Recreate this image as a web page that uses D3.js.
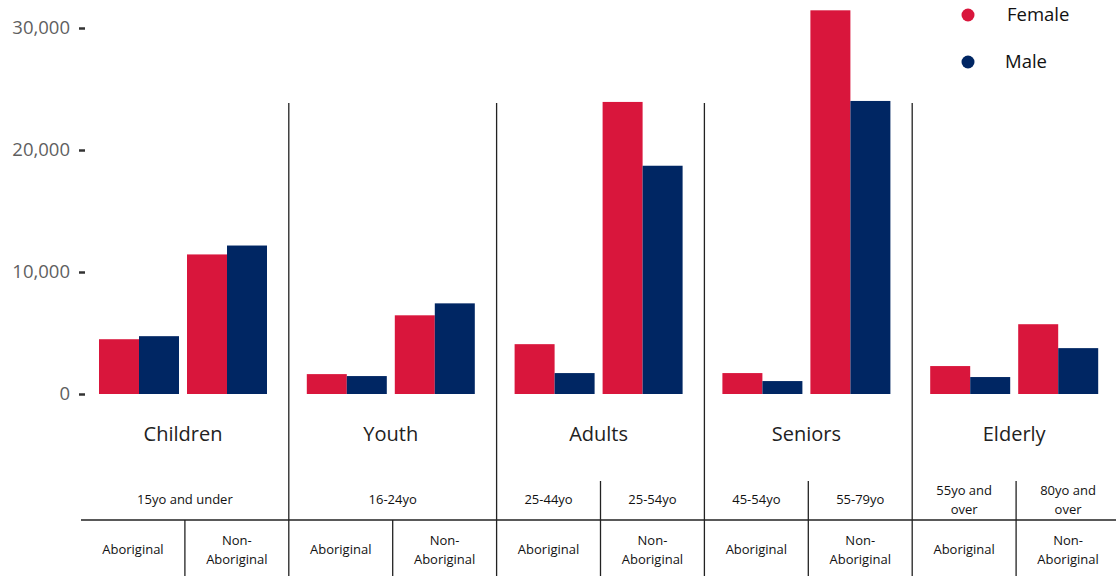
<!DOCTYPE html>
<html>
<head>
<meta charset="utf-8">
<script src="https://cdn.jsdelivr.net/npm/d3@7"></script>
<style>
  html, body { margin: 0; padding: 0; background: #fff; }
  svg { display: block; }
</style>
</head>
<body>
<svg id="chart" width="1116" height="576"></svg>
<script>
// Age groups and their sub-columns
const groups = ["Children", "Youth", "Adults", "Seniors", "Elderly"];
const populations = ["Aboriginal", "Non-Aboriginal"];
const seriesNames = ["Female", "Male"];

// Age range per population within each group (lines split on "|")
const ageRanges = [
  ["15yo and under"],
  ["16-24yo"],
  ["25-44yo", "25-54yo"],
  ["45-54yo", "55-79yo"],
  ["55yo and|over", "80yo and|over"]
];

// Counts: [group][population] for each sex
const femaleValues = [
  [4490, 11440],
  [1630, 6450],
  [4085, 23940],
  [1715, 31450],
  [2290, 5720]
];
const maleValues = [
  [4740, 12170],
  [1470, 7430],
  [1715, 18710],
  [1060, 24020],
  [1390, 3760]
];

const yTicks = [0, 10000, 20000, 30000];
const colors = { Female: "#D9163C", Male: "#002663" };

const svg = d3.select("#chart");

// Scales
const x0 = d3.scaleBand().domain(groups).range([81, 1120]).padding(0);
const x1 = d3.scaleBand().domain(populations).range([18, 186]).paddingInner(8 / 88).paddingOuter(0);
const x2 = d3.scaleBand().domain(seriesNames).range([0, x1.bandwidth()]).padding(0);
const y = d3.scaleLinear().domain([0, 30000]).range([394, 28]);

// Y axis
const yAxis = d3.axisLeft(y)
  .tickValues(yTicks)
  .tickFormat(d3.format(","))
  .tickSize(6)
  .tickPadding(9);
const yg = svg.append("g").attr("transform", "translate(85,0)").call(yAxis);
yg.select(".domain").remove();
yg.selectAll(".tick line").attr("stroke", "#333").attr("stroke-width", 2.5);
yg.selectAll(".tick text")
  .attr("fill", "#5f5f5f")
  .style("font-family", "'Open Sans', sans-serif")
  .style("font-size", "18.5px");

// Bars
const rows = [];
groups.forEach((g, gi) => {
  populations.forEach((p, pi) => {
    rows.push({ group: g, pop: p, sex: "Female", value: femaleValues[gi][pi] });
    rows.push({ group: g, pop: p, sex: "Male", value: maleValues[gi][pi] });
  });
});

svg.append("g").selectAll("rect")
  .data(rows)
  .join("rect")
  .attr("x", d => x0(d.group) + x1(d.pop) + x2(d.sex))
  .attr("y", d => y(d.value))
  .attr("width", x2.bandwidth())
  .attr("height", d => y(0) - y(d.value))
  .attr("fill", d => colors[d.sex]);

// Group labels
svg.append("g").selectAll("text")
  .data(groups)
  .join("text")
  .attr("x", d => x0(d) + 102)
  .attr("y", 441)
  .attr("text-anchor", "middle")
  .attr("fill", "#222")
  .style("font-family", "'Open Sans', sans-serif")
  .style("font-size", "20px")
  .text(d => d);

// Table lines
const lineColor = "#222";
const tableTop = 481, tableMid = 520, tableBottom = 576;
const lines = svg.append("g").attr("stroke", lineColor).attr("stroke-width", 1.3);

// group separators
groups.slice(1).forEach(g => {
  lines.append("line")
    .attr("x1", x0(g)).attr("x2", x0(g))
    .attr("y1", 103).attr("y2", tableBottom);
});
// horizontal rule between rows
lines.append("line")
  .attr("x1", 81).attr("x2", 1116)
  .attr("y1", tableMid).attr("y2", tableMid);

// sub-column dividers
groups.forEach((g, gi) => {
  const mid = x0(g) + x0.bandwidth() / 2;
  const top = ageRanges[gi].length > 1 ? tableTop : tableMid;
  lines.append("line")
    .attr("x1", mid).attr("x2", mid)
    .attr("y1", top).attr("y2", tableBottom);
});

const tableFont = "'Open Sans', sans-serif";

// Age range row
groups.forEach((g, gi) => {
  const ranges = ageRanges[gi];
  ranges.forEach((r, ri) => {
    const cx = ranges.length === 1
      ? x0(g) + x0.bandwidth() / 2
      : x0(g) + x0.bandwidth() / 4 + ri * x0.bandwidth() / 2;
    const parts = r.split("|");
    const t = svg.append("text")
      .attr("text-anchor", "middle")
      .attr("fill", "#111")
      .style("font-family", tableFont)
      .style("font-size", "13px");
    parts.forEach((part, k) => {
      t.append("tspan")
        .attr("x", cx)
        .attr("y", parts.length === 1 ? 504 : 495 + k * 19)
        .text(part);
    });
  });
});

// Population row
groups.forEach(g => {
  populations.forEach((p, pi) => {
    const cx = x0(g) + x0.bandwidth() / 4 + pi * x0.bandwidth() / 2;
    const t = svg.append("text")
      .attr("text-anchor", "middle")
      .attr("fill", "#111")
      .style("font-family", tableFont)
      .style("font-size", "13px");
    if (p === "Non-Aboriginal") {
      t.append("tspan").attr("x", cx).attr("y", 545).text("Non-");
      t.append("tspan").attr("x", cx).attr("y", 564).text("Aboriginal");
    } else {
      t.append("tspan").attr("x", cx).attr("y", 554).text(p);
    }
  });
});

// Legend
const legend = svg.append("g");
seriesNames.forEach((s, i) => {
  const cy = 15 + i * 47;
  legend.append("circle")
    .attr("cx", 968).attr("cy", cy).attr("r", 6.5)
    .attr("fill", colors[s]);
  legend.append("text")
    .attr("x", s === "Female" ? 1007 : 1005)
    .attr("y", cy + 6)
    .attr("fill", "#111")
    .style("font-family", tableFont)
    .style("font-size", "18.5px")
    .text(s);
});
</script>
</body>
</html>
